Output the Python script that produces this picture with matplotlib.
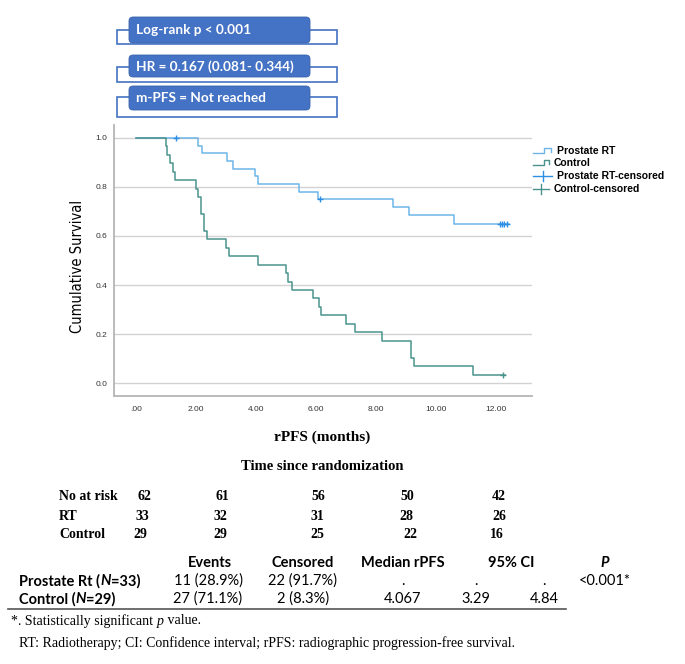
import matplotlib
matplotlib.use("Agg")
import matplotlib.pyplot as plt
from matplotlib.patches import FancyBboxPatch, Rectangle
from matplotlib.lines import Line2D
import numpy as np

# ---------------- data ----------------
rt_times = [0, 2.07, 2.19, 3.03, 3.24, 3.97, 4.06, 5.44, 6.06, 8.58, 9.10, 10.61]
rt_surv = [1.0, 0.969, 0.9375, 0.906, 0.875, 0.844, 0.8125, 0.781, 0.75, 0.717, 0.684, 0.650]
rt_end = 12.45
rt_censor_t = [1.33, 6.12, 12.13, 12.20, 12.28, 12.36]

ctrl_times = [0, 0.99, 1.02, 1.13, 1.22, 1.30, 2.00, 2.06, 2.16, 2.27, 2.36, 3.00, 3.10,
              4.07, 5.00, 5.06, 5.19, 5.89, 6.11, 6.17, 6.99, 7.30, 8.19, 9.17, 9.27, 11.24]
ctrl_surv = [1.0, 0.966, 0.931, 0.897, 0.862, 0.828, 0.793, 0.759, 0.690, 0.621, 0.586, 0.552, 0.517,
             0.483, 0.448, 0.414, 0.379, 0.345, 0.310, 0.276, 0.241, 0.207, 0.172, 0.103, 0.069, 0.034]
ctrl_end = 12.30
ctrl_censor_t = [12.22]

x_ticks = [0, 2, 4, 6, 8, 10, 12]
x_ticklabels = [".00", "2.00", "4.00", "6.00", "8.00", "10.00", "12.00"]
y_ticks = [0.0, 0.2, 0.4, 0.6, 0.8, 1.0]
y_ticklabels = ["0.0", "0.2", "0.4", "0.6", "0.8", "1.0"]

legend_labels = ["Prostate RT", "Control", "Prostate RT-censored", "Control-censored"]
box_texts = ["Log-rank p < 0.001", "HR = 0.167 (0.081- 0.344)", "m-PFS = Not reached"]

risk_rows = ["No at risk", "RT", "Control"]
risk_total = [62, 61, 56, 50, 42]
risk_rt = [33, 32, 31, 28, 26]
risk_ctrl = [29, 29, 25, 22, 16]

tbl_headers = ["Events", "Censored", "Median rPFS", "95% CI", "P"]
tbl_rt_label = ["Prostate Rt (", "N", "=33)"]
tbl_ctrl_label = ["Control (", "N", "=29)"]
tbl_rt = ["11 (28.9%)", "22 (91.7%)", ".", ".", ".", "<0.001*"]
tbl_ctrl = ["27 (71.1%)", "2 (8.3%)", "4.067", "3.29", "4.84", ""]
footnote1 = ["*. Statistically significant ", "p", " value."]
footnote2 = "RT: Radiotherapy; CI: Confidence interval; rPFS: radiographic progression-free survival."

# ---------------- figure ----------------
W, H = 685, 664
fig = plt.figure(figsize=(W / 100, H / 100), dpi=100)
fig.patch.set_facecolor("white")

def fx(x):
    return x / W

def fy(y):
    return 1 - y / H

RT_COL = "#6db5e8"
RT_CENS = "#2d8fe3"
CT_COL = "#4a938d"
BOX_COL = "#4472C4"

ax = fig.add_axes([fx(114), fy(396), (532 - 114) / W, (396 - 125) / H])
ax.set_xlim(-0.73, 13.2)
ax.set_ylim(-0.053, 1.053)

for yv in y_ticks:
    ax.axhline(yv, color="#d2d2d2", lw=1.0, zorder=0)

def steps(times, surv, end):
    return list(times) + [end], list(surv) + [surv[-1]]

def surv_at(times, surv, t):
    idx = np.searchsorted(times, t, side="right") - 1
    return surv[idx]

t, s = steps(rt_times, rt_surv, rt_end)
ax.step(t, s, where="post", color=RT_COL, lw=1.1, zorder=3)
t, s = steps(ctrl_times, ctrl_surv, ctrl_end)
ax.step(t, s, where="post", color=CT_COL, lw=1.1, zorder=3)

ax.plot(rt_censor_t, [surv_at(rt_times, rt_surv, c) for c in rt_censor_t],
        ls="none", marker="+", ms=5, mew=1.0, color=RT_CENS, zorder=4)
ax.plot(ctrl_censor_t, [surv_at(ctrl_times, ctrl_surv, c) for c in ctrl_censor_t],
        ls="none", marker="+", ms=5, mew=1.0, color=CT_COL, zorder=4)

ax.set_xticks(x_ticks)
ax.set_xticklabels(x_ticklabels, fontsize=6, color="#333333", family="Liberation Sans")
ax.set_yticks(y_ticks)
ax.set_yticklabels(y_ticklabels, fontsize=6, color="#333333", family="Liberation Sans")
ax.tick_params(axis="both", length=0)
ax.tick_params(axis="x", pad=7)
ax.tick_params(axis="y", pad=5)
for sp in ["top", "right"]:
    ax.spines[sp].set_visible(False)
for sp in ["left", "bottom"]:
    ax.spines[sp].set_color("#b5b5b5")
    ax.spines[sp].set_linewidth(1.3)

fig.text(fx(78), fy(266), "Cumulative Survival", rotation=90, ha="center", va="center",
         fontsize=10.5, family="DejaVu Sans", fontstretch="condensed", color="black")

# ---------------- legend (manual) ----------------
leg_y = [151, 163, 176, 189]
leg_x_text = [557, 554, 557, 554]
for i, (lab, yy) in enumerate(zip(legend_labels, leg_y)):
    col = [RT_COL, CT_COL, RT_CENS, CT_COL][i]
    if i < 2:
        x0 = 533
        x1 = 551 if i == 0 else 549
        xs = [x0, x0 + 11, x0 + 11, x1, x1]
        ys = [yy + 2, yy + 2, yy - 3, yy - 3, yy + 1]
        fig.add_artist(Line2D([fx(v) for v in xs], [fy(v) for v in ys], color=col, lw=1.0))
    else:
        x1 = 552 if i == 2 else 549
        fig.add_artist(Line2D([fx(533), fx(x1)], [fy(yy), fy(yy)], color=col, lw=1.0))
        xm = 543 if i == 2 else 541
        fig.add_artist(Line2D([fx(xm), fx(xm)], [fy(yy - 5), fy(yy + 5)], color=col, lw=1.0))
    fig.text(fx(leg_x_text[i]), fy(yy), lab, ha="left", va="center", fontsize=7.5,
             fontweight="bold", family="Liberation Sans", color="black")

# ---------------- info boxes ----------------
boxes = [(17, 43, 30, 44), (55, 77, 67, 82), (86, 110, 97, 117)]
for txt, (bt, bb, ot, ob) in zip(box_texts, boxes):
    fig.add_artist(Rectangle((fx(117), fy(ob)), (337 - 117) / W, (ob - ot) / H,
                             fill=False, edgecolor=BOX_COL, lw=1.2))
    fig.add_artist(FancyBboxPatch((fx(129), fy(bb)), (310 - 129) / W, (bb - bt) / H,
                                  boxstyle="round,pad=0,rounding_size=0.006",
                                  facecolor=BOX_COL, edgecolor="#3a63ad", lw=0.6))
    fig.text(fx(136), fy((bt + bb) / 2 + 0.5), txt, ha="left", va="center", fontsize=9.8,
             fontweight="bold", family="Lato", color="white")

# ---------------- axis titles ----------------
fig.text(fx(322), fy(437), "rPFS (months)", ha="center", va="center", fontsize=11,
         fontweight="bold", family="Liberation Serif")
fig.text(fx(322), fy(466), "Time since randomization", ha="center", va="center", fontsize=10.5,
         fontweight="bold", family="Liberation Serif")

# ---------------- risk table ----------------
risk_y = [497, 516, 534]
risk_x = [[144, 222, 318, 407, 499], [142, 220, 317, 406, 499], [140, 220, 317, 410, 497]]
for lab, vals, xs, yy in zip(risk_rows, [risk_total, risk_rt, risk_ctrl], risk_x, risk_y):
    fig.text(fx(59), fy(yy), lab, ha="left", va="center", fontsize=10, fontweight="bold",
             family="Liberation Serif")
    for v, xx in zip(vals, xs):
        fig.text(fx(xx), fy(yy), str(v), ha="center", va="center", fontsize=10,
                 fontweight="bold", family="Liberation Serif")

# ---------------- summary table ----------------
TFS = 10.5
hdr_x = [210, 303, 403, 511, 605]
for h, xx in zip(tbl_headers, hdr_x):
    fig.text(fx(xx), fy(563), h, ha="center", va="center", fontsize=TFS, fontweight="bold",
             family="Lato", style="italic" if h == "P" else "normal")

def chain_annot(x, y, parts, styles, **kw):
    prev = fig.text(fx(x), fy(y), parts[0], ha="left", va="center", style=styles[0], **kw)
    for p, st in zip(parts[1:], styles[1:]):
        prev = fig.add_artist(plt.Annotation(p, xy=(1, 0.5), xycoords=prev, ha="left",
                                             va="center", style=st, **kw))
    return prev

col_x = [208, 303, 403, 476, 544, 605]
for lab, vals, yy in [(tbl_rt_label, tbl_rt, 581), (tbl_ctrl_label, tbl_ctrl, 599)]:
    chain_annot(19, yy, lab, ["normal", "italic", "normal"], fontsize=TFS, fontweight="bold",
                family="Lato")
    for v, xx in zip(vals, col_x):
        fig.text(fx(xx), fy(yy), v, ha="center", va="center", fontsize=TFS, family="Lato")

fig.add_artist(Line2D([fx(8), fx(566)], [fy(609), fy(609)], color="#555555", lw=1.2))

chain_annot(11, 621, footnote1, ["normal", "italic", "normal"], fontsize=10,
            family="Liberation Serif")
fig.text(fx(19), fy(643), footnote2, ha="left", va="center", fontsize=10,
         family="Liberation Serif")

fig.savefig("out.png", dpi=100, facecolor="white")
